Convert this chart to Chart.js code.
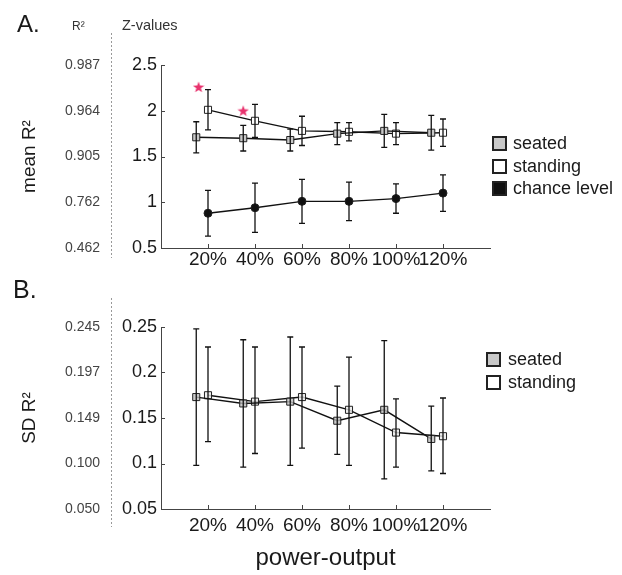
<!DOCTYPE html>
<html>
<head>
<meta charset="utf-8">
<script src="https://cdn.jsdelivr.net/npm/chart.js@4.4.0/dist/chart.umd.min.js"></script>
<style>
body{margin:0;background:#fff;font-family:"Liberation Sans",Arial,sans-serif;}
#wrap{position:relative;width:622px;height:575px;overflow:hidden;}
.box{position:absolute;left:0;width:622px;}
.lbl{position:absolute;white-space:nowrap;line-height:1;color:#1a1a1a;}
.leg{position:absolute;white-space:nowrap;line-height:1;font-size:18px;color:#1a1a1a;}
.sq{position:absolute;width:11px;height:11px;border:2px solid #222;}
</style>
</head>
<body>
<div id="wrap">
  <div class="box" style="top:0;height:270px"><canvas id="chartA"></canvas></div>
  <div class="box" style="top:270px;height:305px"><canvas id="chartB"></canvas></div>

  <div class="lbl" style="left:17px;top:12px;font-size:24px">A.</div>
  <div class="lbl" style="left:72px;top:20px;font-size:12px;color:#333">R²</div>
  <div class="lbl" style="left:122px;top:18px;font-size:14.5px;color:#333">Z-values</div>
  <div class="lbl" style="left:13px;top:277px;font-size:25px">B.</div>

  <div class="sq" style="left:492px;top:136px;background:#c8c8c8"></div>
  <div class="leg" style="left:513px;top:134px">seated</div>
  <div class="sq" style="left:492px;top:159px;background:#fff"></div>
  <div class="leg" style="left:513px;top:157px">standing</div>
  <div class="sq" style="left:492px;top:181px;background:#111"></div>
  <div class="leg" style="left:513px;top:179px">chance level</div>

  <div class="sq" style="left:486px;top:352px;background:#c8c8c8"></div>
  <div class="leg" style="left:508px;top:350px">seated</div>
  <div class="sq" style="left:486px;top:375px;background:#fff"></div>
  <div class="leg" style="left:508px;top:373px">standing</div>
</div>
<script>
var powerLevels = [20, 40, 60, 80, 100, 120];
var seatedShift = -5;

var zTicks = [0.5, 1, 1.5, 2, 2.5];
var zTickLabels = ['0.5', '1', '1.5', '2', '2.5'];
var r2MeanLabels = ['0.462', '0.762', '0.905', '0.964', '0.987'];
var sdTicks = [0.05, 0.1, 0.15, 0.2, 0.25];
var sdTickLabels = ['0.05', '0.1', '0.15', '0.2', '0.25'];
var r2SdLabels = ['0.050', '0.100', '0.149', '0.197', '0.245'];

// panel A, z-values with +/- error
var meanSeated = [1.71, 1.70, 1.68, 1.75, 1.78, 1.76];
var meanSeatedErr = [0.17, 0.14, 0.12, 0.12, 0.18, 0.19];
var meanStanding = [2.01, 1.89, 1.78, 1.77, 1.75, 1.76];
var meanStandingErr = [0.22, 0.18, 0.16, 0.10, 0.12, 0.15];
var meanChance = [0.88, 0.94, 1.01, 1.01, 1.04, 1.10];
var meanChanceErr = [0.25, 0.27, 0.24, 0.21, 0.16, 0.20];

// significance stars
var starX = [16, 35];
var starY = [2.26, 2.0];

// panel B, SD with low / high whiskers
var sdSeated = [0.173, 0.166, 0.168, 0.147, 0.159, 0.127];
var sdSeatedLow = [0.098, 0.096, 0.098, 0.110, 0.083, 0.092];
var sdSeatedHigh = [0.248, 0.236, 0.239, 0.185, 0.235, 0.163];
var sdStanding = [0.175, 0.168, 0.173, 0.159, 0.134, 0.130];
var sdStandingLow = [0.124, 0.111, 0.117, 0.098, 0.096, 0.089];
var sdStandingHigh = [0.228, 0.228, 0.228, 0.217, 0.171, 0.172];

var FONT = '"Liberation Sans", Arial, sans-serif';

function pts(xs, shift, ys) {
    return xs.map(function(x, i){ return {x: x + shift, y: ys[i]}; });
}
function minus(a, b) { return a.map(function(v, i){ return v - b[i]; }); }
function plus(a, b) { return a.map(function(v, i){ return v + b[i]; }); }

// filled 5 point star for the significance marks
var star = document.createElement('canvas');
star.width = 12; star.height = 12;
(function(){
    var c = star.getContext('2d');
    c.fillStyle = '#e8336e';
    c.beginPath();
    for (var k = 0; k < 10; k++) {
        var r = k % 2 ? 2.4 : 6;
        var a = -Math.PI / 2 + k * Math.PI / 5;
        c.lineTo(6 + r * Math.cos(a), 6.5 + r * Math.sin(a));
    }
    c.closePath();
    c.fill();
})();

var errorBars = {
    id: 'errorBars',
    afterDatasetsDraw: function(chart) {
        var ctx = chart.ctx;
        var yScale = chart.scales.y;
        chart.data.datasets.forEach(function(ds, i) {
            if (!ds.errLow) return;
            var meta = chart.getDatasetMeta(i);
            ctx.save();
            ctx.strokeStyle = '#111';
            ctx.lineWidth = 1.3;
            meta.data.forEach(function(pt, j) {
                var top = yScale.getPixelForValue(ds.errHigh[j]);
                var bot = yScale.getPixelForValue(ds.errLow[j]);
                ctx.beginPath();
                ctx.moveTo(pt.x, top); ctx.lineTo(pt.x, bot);
                ctx.moveTo(pt.x - 3, top); ctx.lineTo(pt.x + 3, top);
                ctx.moveTo(pt.x - 3, bot); ctx.lineTo(pt.x + 3, bot);
                ctx.stroke();
            });
            ctx.restore();
        });
    }
};

var axisDecor = {
    id: 'axisDecor',
    afterDraw: function(chart, args, opts) {
        var ctx = chart.ctx, area = chart.chartArea;
        var x = chart.scales.x, y = chart.scales.y, r2 = chart.scales.r2;
        ctx.save();
        ctx.strokeStyle = '#444';
        ctx.lineWidth = 1;
        ctx.beginPath();
        x.ticks.forEach(function(t){
            var px = Math.round(x.getPixelForValue(t.value)) + 0.5;
            ctx.moveTo(px, area.bottom); ctx.lineTo(px, area.bottom - 4);
        });
        y.ticks.forEach(function(t){
            var py = Math.round(y.getPixelForValue(t.value)) + 0.5;
            ctx.moveTo(area.left, py); ctx.lineTo(area.left + 4, py);
        });
        ctx.stroke();
        ctx.setLineDash([2, 2]);
        ctx.strokeStyle = '#999';
        ctx.beginPath();
        ctx.moveTo(Math.round(r2.right) + 0.5, area.top - opts.above);
        ctx.lineTo(Math.round(r2.right) + 0.5, area.bottom + opts.below);
        ctx.stroke();
        ctx.restore();
    }
};

function lineSet(label, data, fill, radius, style, low, high) {
    return {
        label: label,
        data: data,
        borderColor: '#111',
        borderWidth: 1.4,
        pointStyle: style,
        pointRadius: radius,
        pointBorderWidth: 1,
        pointBorderColor: '#222',
        pointBackgroundColor: fill,
        tension: 0,
        fill: false,
        errLow: low,
        errHigh: high
    };
}

function makeOptions(yTicks, yLabels, r2Labels, r2Title, padTop, xHeight, xPad, xTitle, above, below) {
    return {
        responsive: true,
        maintainAspectRatio: false,
        animation: false,
        layout: {padding: {left: 0, right: 132, top: padTop, bottom: 0}},
        plugins: {
            legend: {display: false},
            tooltip: {enabled: false},
            axisDecor: {above: above, below: below}
        },
        scales: {
            x: {
                type: 'linear', min: 0, max: 140,
                afterBuildTicks: function(s){ s.ticks = powerLevels.map(function(v){ return {value: v}; }); },
                afterFit: function(s){ s.height = xHeight; },
                grid: {display: false, drawTicks: false},
                border: {color: '#444', width: 1},
                ticks: {autoSkip: false, maxRotation: 0, padding: xPad, color: '#1a1a1a',
                        font: {family: FONT, size: 19},
                        callback: function(v){ return v + '%'; }},
                title: xTitle ? {display: true, text: xTitle, color: '#1a1a1a',
                                 font: {family: FONT, size: 24}, padding: {top: 0, bottom: 2}} : {display: false}
            },
            y: {
                type: 'linear', position: 'left', weight: 0,
                min: yTicks[0], max: yTicks[yTicks.length - 1],
                afterBuildTicks: function(s){ s.ticks = yTicks.map(function(v){ return {value: v}; }); },
                afterFit: function(s){ s.width = 50; },
                grid: {display: false, drawTicks: false},
                border: {color: '#444', width: 1},
                ticks: {padding: 4, color: '#1a1a1a', font: {family: FONT, size: 18},
                        callback: function(v, i){ return yLabels[i]; }}
            },
            r2: {
                type: 'linear', position: 'left', weight: 1,
                min: yTicks[0], max: yTicks[yTicks.length - 1],
                afterBuildTicks: function(s){ s.ticks = yTicks.map(function(v){ return {value: v}; }); },
                afterFit: function(s){ s.width = 111; },
                grid: {display: false, drawTicks: false},
                border: {display: false},
                ticks: {padding: 11, color: '#444', font: {family: FONT, size: 14},
                        callback: function(v, i){ return r2Labels[i]; }},
                title: {display: true, text: r2Title, color: '#1a1a1a',
                        font: {family: FONT, size: 19}, padding: {top: 18, bottom: 0}}
            }
        }
    };
}

var chartA = new Chart(document.getElementById('chartA'), {
    type: 'line',
    data: {
        datasets: [
            {
                label: 'significant',
                data: pts(starX, 0, starY),
                showLine: false,
                pointStyle: star,
                pointRadius: 6
            },
            lineSet('seated', pts(powerLevels, seatedShift, meanSeated), '#c8c8c8', 5, 'rect',
                    minus(meanSeated, meanSeatedErr), plus(meanSeated, meanSeatedErr)),
            lineSet('standing', pts(powerLevels, 0, meanStanding), '#ffffff', 5, 'rect',
                    minus(meanStanding, meanStandingErr), plus(meanStanding, meanStandingErr)),
            lineSet('chance level', pts(powerLevels, 0, meanChance), '#111111', 4, 'circle',
                    minus(meanChance, meanChanceErr), plus(meanChance, meanChanceErr))
        ]
    },
    options: makeOptions(zTicks, zTickLabels, r2MeanLabels, 'mean R²', 65, 22, 0, null, 32, 10),
    plugins: [errorBars, axisDecor]
});

var chartB = new Chart(document.getElementById('chartB'), {
    type: 'line',
    data: {
        datasets: [
            lineSet('seated', pts(powerLevels, seatedShift, sdSeated), 'rgba(190,190,190,0.8)', 5, 'rect',
                    sdSeatedLow, sdSeatedHigh),
            lineSet('standing', pts(powerLevels, 0, sdStanding), 'rgba(235,235,235,0.8)', 5, 'rect',
                    sdStandingLow, sdStandingHigh)
        ]
    },
    options: makeOptions(sdTicks, sdTickLabels, r2SdLabels, 'SD R²', 57, 66, 5, 'power-output', 29, 18),
    plugins: [errorBars, axisDecor]
});
</script>
</body>
</html>
